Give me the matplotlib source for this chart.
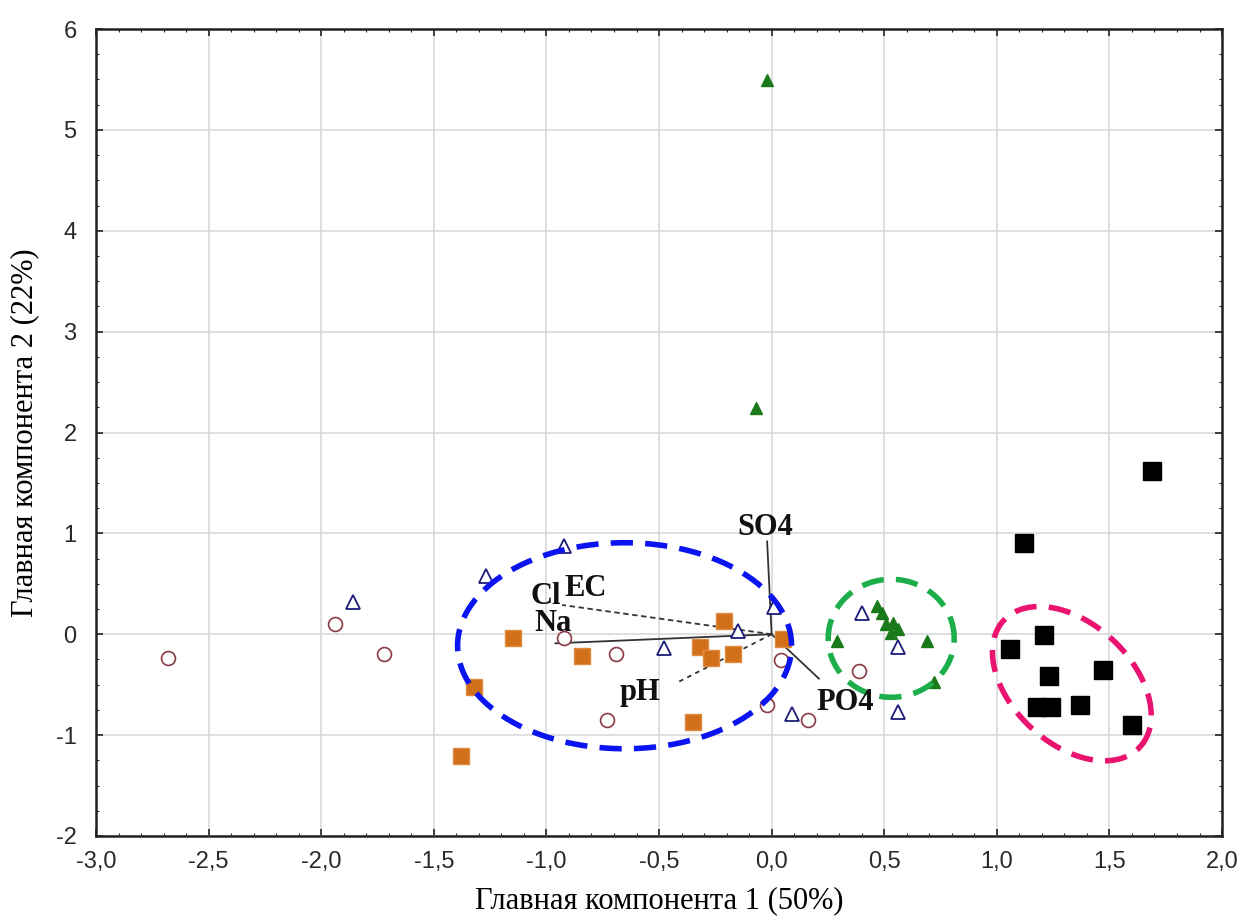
import numpy as np
import matplotlib
matplotlib.use('Agg')
import matplotlib.pyplot as plt
from matplotlib.ticker import MultipleLocator, FuncFormatter

# --- data (PC1, PC2 scores) ---
green_x = [-0.02, -0.07, 0.47, 0.49, 0.51, 0.54, 0.56, 0.53, 0.29, 0.69, 0.72]
green_y = [5.49, 2.24, 0.28, 0.21, 0.10, 0.11, 0.05, 0.01, -0.07, -0.07, -0.47]

tri_x = [-0.92, -1.27, -1.86, 0.01, -0.15, -0.48, 0.40, 0.56, 0.09, 0.56]
tri_y = [0.87, 0.58, 0.32, 0.27, 0.03, -0.14, 0.21, -0.13, -0.79, -0.77]

orange_x = [-1.15, -0.84, -1.32, -0.21, -0.32, -0.27, -0.17, -0.35, 0.05, -1.38]
orange_y = [-0.04, -0.22, -0.52, 0.13, -0.13, -0.24, -0.20, -0.87, -0.05, -1.21]

circ_x = [-2.68, -1.94, -1.72, -0.92, -0.69, -0.73, 0.04, -0.02, 0.16, 0.39]
circ_y = [-0.24, 0.10, -0.20, -0.04, -0.20, -0.85, -0.26, -0.70, -0.85, -0.36]

black_x = [1.69, 1.12, 1.21, 1.06, 1.23, 1.47, 1.18, 1.24, 1.37, 1.60]
black_y = [1.62, 0.90, -0.01, -0.15, -0.41, -0.35, -0.72, -0.72, -0.70, -0.90]

# loading vectors
vec_x = [-0.02, -0.93, -0.96, -0.42, 0.21]
vec_y = [0.92, 0.29, -0.09, -0.48, -0.44]
vec_styles = ['-', (0, (3, 2)), '-', (0, (2.5, 2.5)), '-']

# vector labels
lab_names = ['SO4', 'Cl', 'EC', 'Na', 'pH', 'PO4']
lab_x = [-0.03, -1.07, -0.92, -1.055, -0.675, 0.20]
lab_y = [0.98, 0.30, 0.38, 0.03, -0.65, -0.75]
lab_ha = ['center', 'left', 'left', 'left', 'left', 'left']

fig = plt.figure(figsize=(12.39, 9.22), dpi=100)
ax = fig.add_axes([0.0775, 0.0933, 0.9088, 0.8752])
xmin, xmax, ymin, ymax = -3.0, 2.0, -2.0, 6.0
ax.set_xlim(xmin, xmax)
ax.set_ylim(ymin, ymax)

ax.grid(True, which='major', color='#d6d6d6', linewidth=1.1)
ax.set_axisbelow(True)

# vectors
for vx, vy, ls in zip(vec_x, vec_y, vec_styles):
    ax.plot([0, vx], [0, vy], color='#333333', linestyle=ls, linewidth=1.3, zorder=2)

for name, lx, ly, ha in zip(lab_names, lab_x, lab_y, lab_ha):
    ax.text(lx, ly, name, fontsize=22, fontweight='bold', family='Liberation Serif',
            color='#111111', ha=ha, va='baseline', zorder=5)

# points
ax.plot(circ_x, circ_y, 'o', ms=10, mfc='white', mec='#8b3a46', mew=1.2, ls='none', zorder=3)
ax.plot(tri_x, tri_y, '^', ms=10.5, mfc='white', mec='#1c1c78', mew=1.3, ls='none', zorder=3)
ax.plot(orange_x, orange_y, 's', ms=11, mfc='#d2701a', mec='#e08a40', mew=1, ls='none', zorder=3)
ax.plot(green_x, green_y, '^', ms=9, mfc='#1a7a1a', mec='#1a7a1a', ls='none', zorder=3)
ax.plot(black_x, black_y, 's', ms=13, mfc='black', mec='black', ls='none', zorder=3)

# dashed ellipses drawn in pixel space then mapped to data units
px_x = ax.get_position().width * 1239 / (xmax - xmin)
px_y = ax.get_position().height * 922 / (ymax - ymin)

def ellipse(cx, cy, a, b, ang, color):
    t = np.linspace(0, 2 * np.pi, 400)
    th = np.deg2rad(ang)
    dx = a * np.cos(t) * np.cos(th) - b * np.sin(t) * np.sin(th)
    dy = a * np.cos(t) * np.sin(th) + b * np.sin(t) * np.cos(th)
    ax.plot(cx + dx / px_x, cy + dy / px_y, color=color, linewidth=4,
            linestyle=(0, (4, 2.2)), zorder=4)

ellipse(-0.653, -0.114, 167, 103, 0, '#0a14f0')
ellipse(0.531, -0.04, 63, 59, 0, '#1cae4a')
ellipse(1.333, -0.49, 93, 60, -43, '#ea1470')

# ticks
ax.xaxis.set_major_locator(MultipleLocator(0.5))
ax.xaxis.set_minor_locator(MultipleLocator(0.1))
ax.yaxis.set_major_locator(MultipleLocator(1))
ax.yaxis.set_minor_locator(MultipleLocator(0.25))
ax.xaxis.set_major_formatter(FuncFormatter(lambda v, p: ('%.1f' % v).replace('.', ',')))
ax.yaxis.set_major_formatter(FuncFormatter(lambda v, p: '%d' % round(v)))
ax.tick_params(which='both', direction='in', top=True, right=True, color='#222222')
ax.tick_params(which='major', length=5, width=1.2, labelsize=17, labelcolor='#2a2a2a')
ax.tick_params(axis='x', which='major', pad=11)
ax.tick_params(axis='y', which='major', pad=14)
ax.tick_params(which='minor', length=2.5, width=0.8)
for lab in ax.get_xticklabels() + ax.get_yticklabels():
    lab.set_family('Liberation Sans')
for s in ax.spines.values():
    s.set_linewidth(1.8)
    s.set_color('#222222')

ax.set_xlabel('Главная компонента 1 (50%)', fontsize=22, family='Liberation Serif', labelpad=9)
ax.set_ylabel('Главная компонента 2 (22%)', fontsize=22, family='Liberation Serif', labelpad=12)

fig.savefig('out.png', dpi=100)
